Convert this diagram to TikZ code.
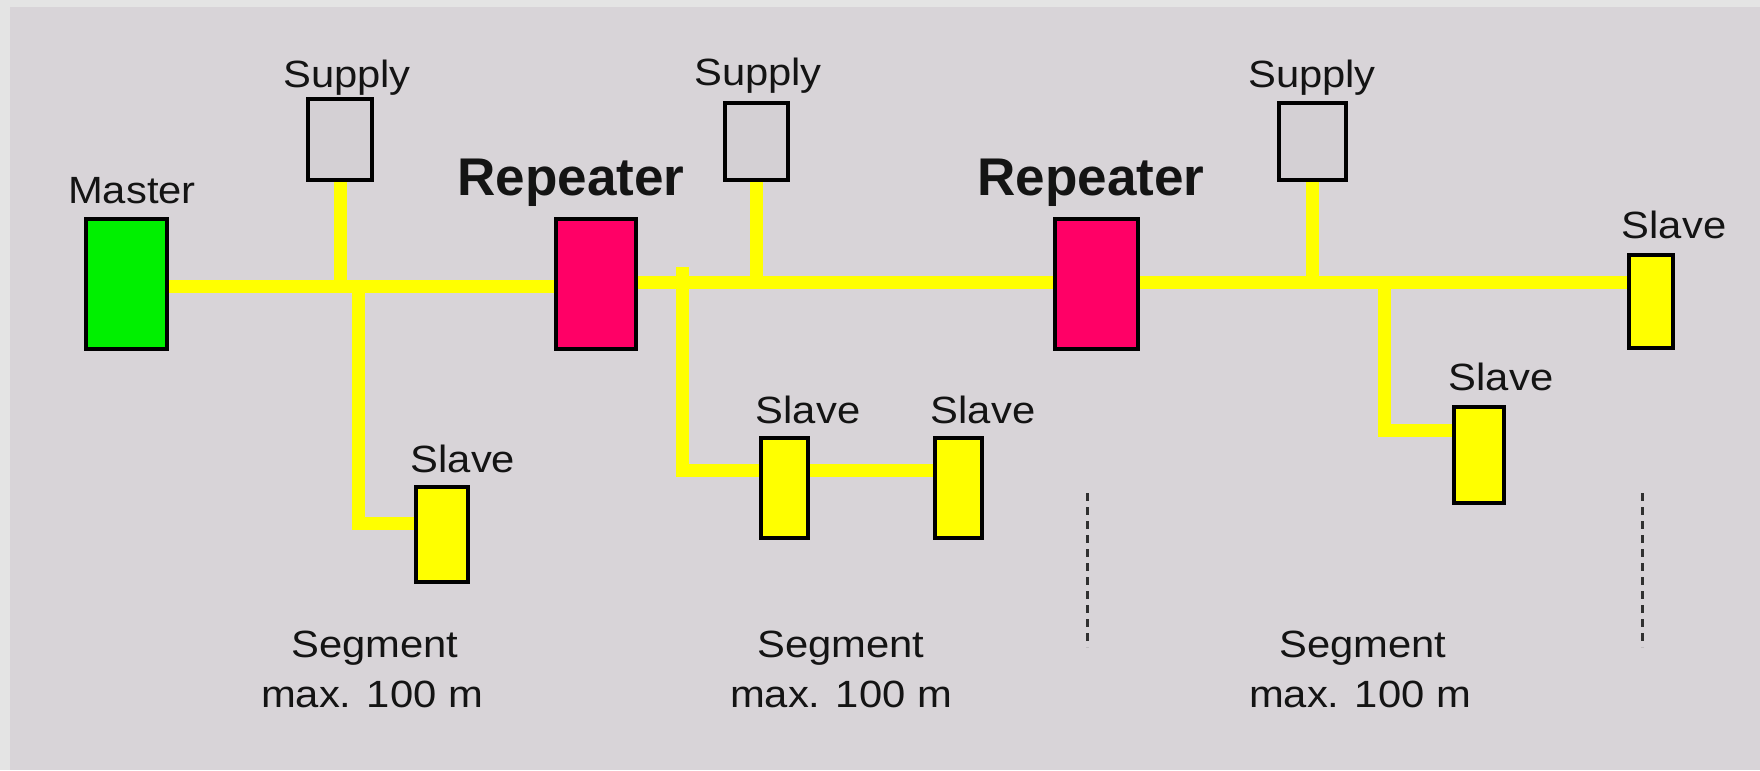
\documentclass[tikz,border=0pt]{standalone}
\usepackage{fontspec}
\setmainfont{Liberation Sans}
\newfontfamily\labfont[FakeStretch=1.1]{Liberation Sans}
\usetikzlibrary{calc}
\pgfdeclarelayer{backdrop}
\pgfdeclarelayer{wires}
\pgfsetlayers{backdrop,wires,main}
\definecolor{outerbg}{HTML}{E4E4E4}
\definecolor{innerbg}{HTML}{D8D4D8}
\definecolor{supplyfill}{HTML}{D4D0D4}
\definecolor{mastergreen}{HTML}{00F000}
\definecolor{repred}{HTML}{FF0066}
\definecolor{busyellow}{HTML}{FFFF00}
\definecolor{dashgray}{HTML}{303030}
\definecolor{labtext}{HTML}{141414}
\begin{document}
\begin{tikzpicture}[x=0.1mm,y=-0.1mm,
  box/.style={draw=black, line width=0.35mm, rectangle, inner sep=0pt, outer sep=0pt},
  masterbox/.style={box, fill=mastergreen},
  repbox/.style={box, fill=repred},
  supbox/.style={box, fill=supplyfill},
  slavebox/.style={box, fill=busyellow},
  lab/.style={font=\labfont\fontsize{10.8}{13}\selectfont, text=labtext, anchor=base, inner sep=0pt},
  replab/.style={font=\fontsize{15.1}{18}\selectfont\bfseries, text=labtext, anchor=base, inner sep=0pt},
  bus/.style={draw=busyellow, line width=1.3mm, line cap=butt, line join=miter},
  dashline/.style={draw=dashgray, line width=0.3mm, dash pattern=on 0.8mm off 0.6mm}
]
\useasboundingbox (0,0) rectangle (1760,770);
\begin{pgfonlayer}{backdrop}
  \fill[outerbg] (0,0) rectangle (1760,770);
  \fill[innerbg] (10,7) rectangle (1760,770);
\end{pgfonlayer}

% devices
\node[masterbox, minimum width=8.1mm, minimum height=13mm] (master) at (126.5,284) {};
\node[repbox, minimum width=8mm, minimum height=13mm] (rep1) at (596,284) {};
\node[repbox, minimum width=8.3mm, minimum height=13mm] (rep2) at (1096.5,284) {};
\node[supbox, minimum width=6.4mm, minimum height=8.1mm] (sup1) at (340,139.5) {};
\node[supbox, minimum width=6.3mm, minimum height=7.7mm] (sup2) at (756.5,141.5) {};
\node[supbox, minimum width=6.7mm, minimum height=7.7mm] (sup3) at (1312.5,141.5) {};
\node[slavebox, minimum width=4.4mm, minimum height=9.3mm] (slaveR) at (1651,301.5) {};
\node[slavebox, minimum width=5.2mm, minimum height=9.5mm] (slave1) at (442,534.5) {};
\node[slavebox, minimum width=4.7mm, minimum height=10mm] (slave2) at (784.5,488) {};
\node[slavebox, minimum width=4.7mm, minimum height=10mm] (slave3) at (958.5,488) {};
\node[slavebox, minimum width=5mm, minimum height=9.6mm] (slave4) at (1479,455) {};

% labels
\node[lab] (lmaster) at (132,203) {Master};
\node[replab] (lrep1) at (571,195) {Repeater};
\node[replab] (lrep2) at (1091,195) {Repeater};
\node[lab] (lsup1) at (347,87) {Supply};
\node[lab] (lsup2) at (758,85) {Supply};
\node[lab] (lsup3) at (1312,87) {Supply};
\node[lab] (lslaveR) at (1674,238) {Slave};
\node[lab] (lslave1) at (463,472) {Slave};
\node[lab] (lslave2) at (808,423) {Slave};
\node[lab] (lslave3) at (983,423) {Slave};
\node[lab] (lslave4) at (1501,390) {Slave};
\node[lab] (seg1a) at (375,657) {Segment};
\node[lab] (seg1b) at (372,707) {max. 100 m};
\node[lab] (seg2a) at (841,657) {Segment};
\node[lab] (seg2b) at (841,707) {max. 100 m};
\node[lab] (seg3a) at (1363,657) {Segment};
\node[lab] (seg3b) at (1360,707) {max. 100 m};

% junction coordinates
\coordinate (k1) at ($(master.east)+(0,2)$);
\coordinate (k2) at ($(rep1.east)+(0,-2)$);
\coordinate (k3) at ($(rep2.east)+(0,-2)$);
\coordinate (j1) at (340,286);
\coordinate (j2) at (756.5,282);
\coordinate (j3) at (1312.5,282);
\coordinate (b1) at (358,286);
\coordinate (c1) at (358,523);
\coordinate (b2) at (682.5,267);
\coordinate (c2) at (682.5,470);
\coordinate (b3) at (1384,282);
\coordinate (c3) at (1384,430);
\coordinate (d1a) at (1087,493);
\coordinate (d1b) at (1087,647);
\coordinate (d2a) at (1642,493);
\coordinate (d2b) at (1642,647);

\begin{pgfonlayer}{wires}
  \draw[bus] (k1) -- (k1 -| rep1.west);
  \draw[bus] (k2) -- (k2 -| rep2.west);
  \draw[bus] (k3) -- (k3 -| slaveR.west);
  \draw[bus] (sup1.south) -- (j1);
  \draw[bus] (sup2.south) -- (j2);
  \draw[bus] (sup3.south) -- (j3);
  \draw[bus] (b1) -- (c1) -- (c1 -| slave1.west);
  \draw[bus] (b2) -- (c2) -- (c2 -| slave3.west);
  \draw[bus] (b3) -- (c3) -- (c3 -| slave4.west);
\end{pgfonlayer}

\draw[dashline] (d1a) -- (d1b);
\draw[dashline] (d2a) -- (d2b);
\end{tikzpicture}
\end{document}
